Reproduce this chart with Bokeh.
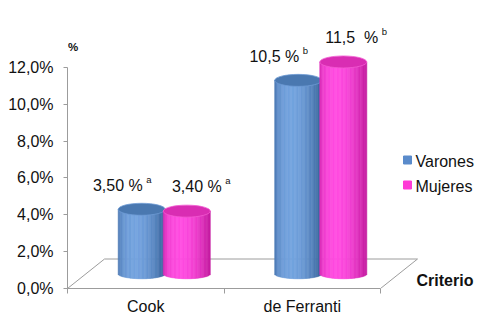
import math
from bokeh.plotting import figure
from bokeh.models import Range1d, FixedTicker, ColumnDataSource, Label
from bokeh.core.properties import value
from bokeh.embed import file_html
from bokeh.resources import INLINE

# ---------------- data ----------------
categories = ["Cook", "de Ferranti"]
series_names = ["Varones", "Mujeres"]
varones = [3.5, 10.5]
mujeres = [3.4, 11.5]
label_varones = ["3,50 %", "10,5 %"]
label_mujeres = ["3,40 %", "11,5 \u00a0%"]
sig_varones = ["a", "b"]
sig_mujeres = ["a", "b"]
y_ticks = [0, 2, 4, 6, 8, 10, 12]
y_tick_labels = ["0,0%", "2,0%", "4,0%", "6,0%", "8,0%", "10,0%", "12,0%"]
y_title = "%"
x_title = "Criterio"

# ---------------- layout / style ----------------
W, H = 491, 318
LEFT, TOP, BOTTOM = 67, 12, 288
PX_X = 156.5          # pixels per category unit
PX_Y = 18.417         # pixels per percent
X_END = (W - LEFT) / PX_X
Y_END = (BOTTOM - TOP) / PX_Y

FONT = value("Liberation Sans")
GRAY = "#9c9c9c"
DX, DY = 37 / PX_X, 29.5 / PX_Y        # 3D depth offset
BAR_W = 47 / PX_X
BAR_OFF = 0.144
B_TOP = 6.0 / PX_Y
B_BOT = 5.0 / PX_Y
TXT_UP = 4 / PX_Y                      # baseline correction for text glyphs

STYLE = {
    "Varones": dict(dark=(0x2E, 0x58, 0x90), light=(0x72, 0xA2, 0xDE), top="#4a78b0", rim="#6d9bd4", key="#5a8bcb"),
    "Mujeres": dict(dark=(0xBC, 0x14, 0x96), light=(0xFF, 0x4A, 0xE0), top="#d92db3", rim="#f25ad2", key="#ff3ad6"),
}

p = figure(width=W, height=H, output_backend="svg", toolbar_location=None,
           x_range=Range1d(0, X_END), y_range=Range1d(0, Y_END),
           min_border_left=LEFT, min_border_right=0, min_border_top=TOP,
           min_border_bottom=H - BOTTOM)
p.outline_line_color = None
p.xgrid.visible = False
p.ygrid.visible = False
p.background_fill_color = "white"
p.border_fill_color = "white"

# axes
ya = p.yaxis[0]
ya.ticker = FixedTicker(ticks=y_ticks, minor_ticks=[])
ya.major_label_overrides = {t: l for t, l in zip(y_ticks, y_tick_labels)}
ya.bounds = (0, 12)
ya.axis_line_color = GRAY
ya.major_tick_line_color = GRAY
ya.major_tick_out = 4
ya.major_tick_in = 0
ya.major_label_standoff = 10
ya.major_label_text_font = "Liberation Sans"
ya.major_label_text_font_size = "16px"
ya.major_label_text_color = "#111111"

xa = p.xaxis[0]
ncat = len(categories)
xa.ticker = FixedTicker(ticks=[i + 0.5 for i in range(ncat)], minor_ticks=list(range(ncat + 1)))
xa.major_label_overrides = {i + 0.5: c for i, c in enumerate(categories)}
xa.bounds = (0, ncat)
xa.axis_line_color = GRAY
xa.major_tick_line_color = None
xa.major_tick_out = 0
xa.major_tick_in = 0
xa.minor_tick_line_color = GRAY
xa.minor_tick_out = 5
xa.minor_tick_in = 0
xa.major_label_standoff = 4
xa.axis_label_standoff = 0
xa.major_label_text_font = "Liberation Sans"
xa.major_label_text_font_size = "16px"
xa.major_label_text_color = "#111111"

# floor
p.line([0, DX, ncat + DX, ncat], [0, DY, DY, 0], line_color=GRAY, line_width=1)


def shade(style, t):
    n_x, n_z = t, math.sqrt(max(0.0, 1 - t * t))
    lx, lz = -0.3, 1.0
    nl = math.hypot(lx, lz)
    d = max(0.0, (n_x * lx + n_z * lz) / nl)
    k = 0.15 + 0.85 * d ** 1.4
    c = tuple(int(round(a + (b - a) * k)) for a, b in zip(style["dark"], style["light"]))
    return "#%02x%02x%02x" % c


def cylinders(vals, off, style):
    N = 36
    L, R, T, B, C = [], [], [], [], []
    tops_x, tops_y = [], []
    for i, v in enumerate(vals):
        cx = i + 0.5 + off + DX / 2
        y0 = DY / 2
        y1 = v + DY / 2
        for k in range(N):
            a = cx - BAR_W / 2 + BAR_W * k / N
            b = cx - BAR_W / 2 + BAR_W * (k + 1) / N
            tc = ((a + b) / 2 - cx) / (BAR_W / 2)
            L.append(a)
            R.append(b)
            T.append(y1)
            B.append(y0 - B_BOT * math.sqrt(max(0.0, 1 - tc * tc)))
            C.append(shade(style, tc))
        tops_x.append(cx)
        tops_y.append(y1)
    src = ColumnDataSource(dict(left=L, right=R, top=T, bottom=B, color=C))
    p.quad(left="left", right="right", top="top", bottom="bottom", source=src,
           fill_color="color", line_color="color", line_width=0.6)
    p.ellipse(x=tops_x, y=tops_y, width=BAR_W, height=2 * B_TOP,
              fill_color=style["top"], line_color=style["rim"], line_width=0.8)


cylinders(varones, -BAR_OFF, STYLE["Varones"])
cylinders(mujeres, BAR_OFF, STYLE["Mujeres"])


# value labels
def labels(vals, texts, sigs, off, end_px):
    xs, ys = [], []
    for i, v in enumerate(vals):
        cx = i + 0.5 + off + DX / 2
        xs.append(cx + end_px / PX_X)
        ys.append(v + 1.9 + TXT_UP)
    p.text(x=xs, y=ys, text=texts, text_font=FONT, text_font_size="16px",
           text_align="right", text_baseline="alphabetic", text_color="#111111")
    p.text(x=[x + 3.5 / PX_X for x in xs], y=[y + 6 / PX_Y for y in ys], text=sigs,
           text_font=FONT, text_font_size="9.5px", text_align="left",
           text_baseline="alphabetic", text_color="#111111")


labels(varones, label_varones, sig_varones, -BAR_OFF, 1)
labels(mujeres, label_mujeres, sig_mujeres, BAR_OFF, 35)

# axis titles
p.add_layout(Label(x=0.5 / PX_X, y=(BOTTOM - 50) / PX_Y + TXT_UP, text=y_title,
                   text_font="Liberation Sans", text_font_size="11.5px", text_font_style="bold",
                   text_align="left", text_baseline="alphabetic", text_color="#111111"))
p.add_layout(Label(x=(416 - LEFT) / PX_X, y=(BOTTOM - 286 + 6) / PX_Y, text=x_title,
                   text_font="Liberation Sans", text_font_size="16px", text_font_style="bold",
                   text_align="left", text_baseline="alphabetic", text_color="#111111"))

# legend
leg_x = (407 - LEFT) / PX_X
leg_y = [(BOTTOM - 159.5) / PX_Y, (BOTTOM - 184.5) / PX_Y]
p.scatter(x=[leg_x, leg_x], y=leg_y, marker="square", size=8,
          fill_color=[STYLE[s]["key"] for s in series_names],
          line_color=[STYLE[s]["key"] for s in series_names])
p.text(x=[leg_x + 8 / PX_X] * 2, y=[y - 5.5 / PX_Y + TXT_UP for y in leg_y], text=series_names,
       text_font=FONT, text_font_size="16px", text_align="left",
       text_baseline="alphabetic", text_color="#111111")

open("out.html", "w").write(file_html(p, INLINE))
